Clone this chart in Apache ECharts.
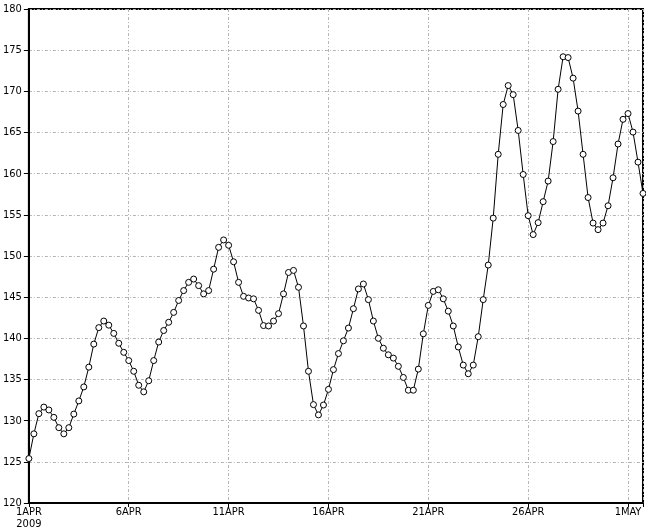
<!DOCTYPE html>
<html>
<head>
<meta charset="utf-8">
<script src="https://cdn.jsdelivr.net/npm/echarts@6/dist/echarts.min.js"></script>
<style>html,body{margin:0;padding:0;background:#fff}#c{width:646px;height:531px}</style>
</head>
<body>
<div id="c"></div>
<script>
// 6-hourly values starting 1 APR 2009 00Z
var stepDays = 0.25;
var values = [
125.4,128.4,130.85,131.65,131.3,130.4,129.15,128.4,129.15,130.8,
132.4,134.1,136.5,139.3,141.3,142.1,141.6,140.6,139.4,138.3,
137.3,136.0,134.3,133.5,134.85,137.3,139.55,140.95,141.95,143.15,
144.6,145.8,146.8,147.2,146.4,145.4,145.8,148.4,151.05,151.95,
151.3,149.3,146.8,145.1,144.9,144.8,143.4,141.55,141.5,142.1,
143.0,145.4,148.0,148.25,146.2,141.5,136.0,131.95,130.7,131.9,
133.8,136.2,138.15,139.7,141.25,143.6,146.0,146.6,144.7,142.1,
140.0,138.8,138.0,137.6,136.6,135.25,133.7,133.7,136.26,140.55,
144.0,145.7,145.9,144.8,143.3,141.5,138.95,136.75,135.7,136.75,
140.2,144.7,148.9,154.6,162.35,168.4,170.7,169.6,165.25,159.9,
154.9,152.6,154.05,156.6,159.1,163.9,170.25,174.2,174.1,171.6,
167.6,162.35,157.1,154.0,153.2,154.0,156.1,159.5,163.6,166.6,
167.3,165.05,161.4,157.6
];
var xTickLabels = ['1APR\n2009','6APR','11APR','16APR','21APR','26APR','1MAY'];
var xTickStep = 5;
var yMin = 120, yMax = 180, yStep = 5;

var data = values.map(function(v, i){ return [i * stepDays, v]; });
var xMax = (values.length - 1) * stepDays;

var font = "'Liberation Sans Narrow','DejaVu Sans Condensed','Liberation Sans',sans-serif";
var gridLine = { show: true, lineStyle: { color: '#b4b4b4', type: [3, 2, 1, 2], width: 1 } };
var chart = echarts.init(document.getElementById('c'));
chart.setOption({
  animation: false,
  backgroundColor: '#fff',
  grid: { left: 27, right: 2, top: 9, bottom: 28, show: true, borderColor: '#000', borderWidth: 2, backgroundColor: 'transparent' },
  xAxis: {
    type: 'value', min: 0, max: xMax, interval: xTickStep,
    axisLine: { show: true, lineStyle: { color: '#000', width: 2 } },
    axisTick: { show: true, length: 4, lineStyle: { color: '#000' } },
    axisLabel: {
      color: '#000', fontFamily: font, fontSize: 11, margin: 3, lineHeight: 12,
      formatter: function(v){ var k = Math.round(v / xTickStep); return (Math.abs(v - k * xTickStep) < 1e-6 && xTickLabels[k]) ? xTickLabels[k] : ''; }
    },
    splitLine: gridLine
  },
  yAxis: {
    type: 'value', min: yMin, max: yMax, interval: yStep,
    axisLine: { show: true, lineStyle: { color: '#000', width: 2 } },
    axisTick: { show: true, length: 5, lineStyle: { color: '#000' } },
    axisLabel: { color: '#000', fontFamily: font, fontSize: 11, margin: 7 },
    splitLine: gridLine
  },
  series: [{
    type: 'line', data: data, clip: true,
    symbol: 'circle', symbolSize: 6, showAllSymbol: true,
    lineStyle: { color: '#000', width: 1 },
    itemStyle: { color: '#fff', borderColor: '#000', borderWidth: 1 }
  }]
});
</script>
</body>
</html>
